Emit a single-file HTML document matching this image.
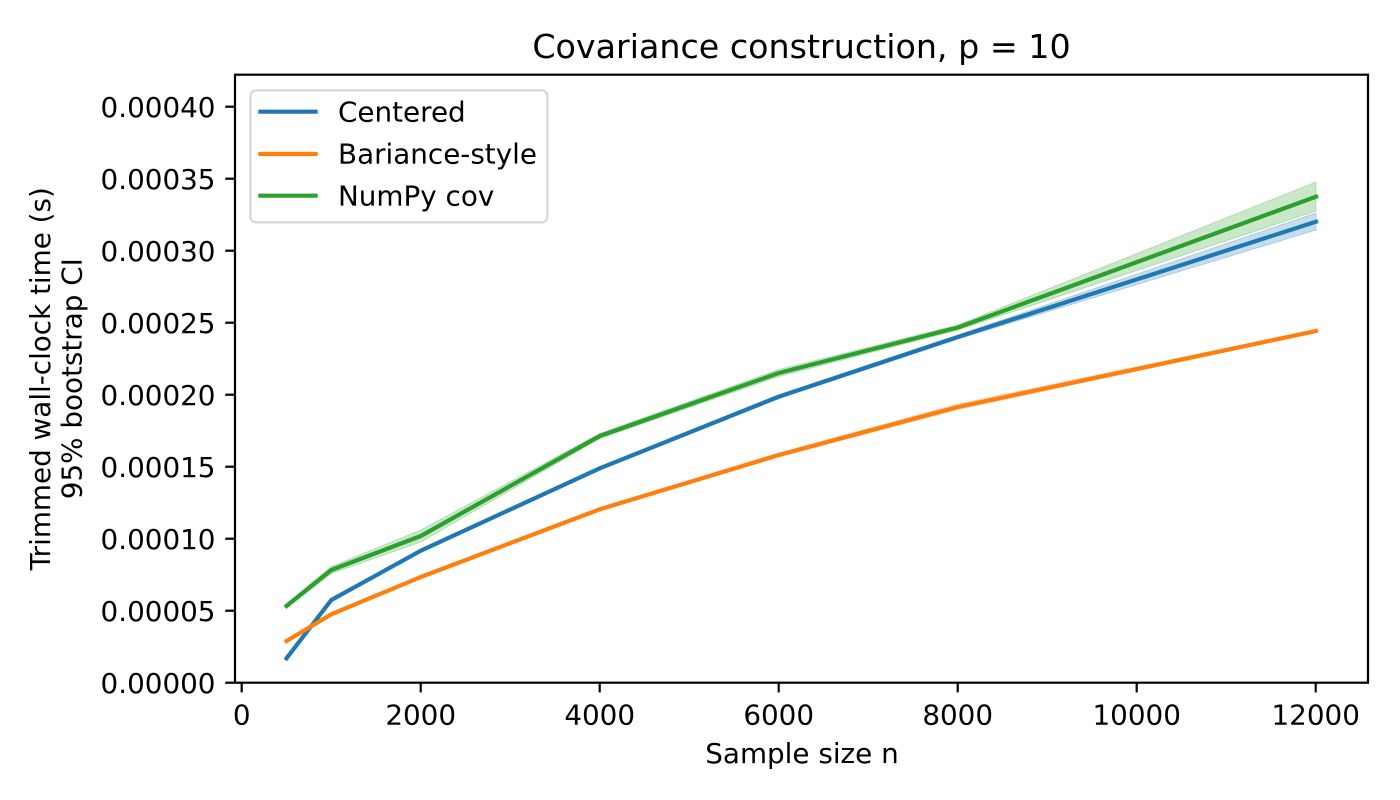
<!DOCTYPE html>
<html>
<head>
<meta charset="utf-8">
<style>
  html, body { margin: 0; padding: 0; background: #ffffff; }
  svg { display: block; }
  text { font-family: "DejaVu Sans", "Liberation Sans", sans-serif; fill: #000; }
</style>
</head>
<body>
<svg width="1400" height="800" viewBox="0 0 1400 800" xmlns="http://www.w3.org/2000/svg">
  <rect x="0" y="0" width="1400" height="800" fill="#ffffff"/>

  <!-- Title -->
  <text x="801.5" y="58" font-size="33.3" text-anchor="middle">Covariance construction, p = 10</text>

  <!-- Bands and lines -->
  <!-- Centered (blue) -->
  <polygon fill="#1f77b4" fill-opacity="0.25" stroke="#1f77b4" stroke-opacity="0.25" stroke-width="1"
    points="286.5,656.8 331.3,598.5 420.8,549.2 599.8,466.8 778.8,394.7 957.9,335 1316,213 1316,230 957.9,339 778.8,398.7 599.8,469.8 420.8,552.2 331.3,601.5 286.5,659.8"/>
  <polyline fill="none" stroke="#1f77b4" stroke-width="4.17" stroke-linecap="square" stroke-linejoin="round"
    points="286.5,658.3 331.3,600 420.8,550.7 599.8,468.3 778.8,396.7 957.9,337 1316,221.7"/>

  <!-- Bariance-style (orange) -->
  <polygon fill="#ff7f0e" fill-opacity="0.25" stroke="#ff7f0e" stroke-opacity="0.25" stroke-width="1"
    points="286.5,639.5 331.3,612.8 420.8,575.5 599.8,507.5 778.8,453 957.9,404 1316,329.5 1316,332.5 957.9,409.5 778.8,457 599.8,511 420.8,578.5 331.3,615.8 286.5,642.5"/>
  <polyline fill="none" stroke="#ff7f0e" stroke-width="4.17" stroke-linecap="square" stroke-linejoin="round"
    points="286.5,641 331.3,614.3 420.8,577 599.8,509.3 778.8,455 957.9,407 1316,331"/>

  <!-- NumPy cov (green) -->
  <polygon fill="#2ca02c" fill-opacity="0.25" stroke="#2ca02c" stroke-opacity="0.25" stroke-width="1"
    points="286.5,603.5 331.3,566.5 420.8,530 599.8,433.5 778.8,369.5 957.9,325 1316,182 1316,211 957.9,330 778.8,376.5 599.8,438.5 420.8,542 331.3,573.5 286.5,608.5"/>
  <polyline fill="none" stroke="#2ca02c" stroke-width="4.17" stroke-linecap="square" stroke-linejoin="round"
    points="286.5,606 331.3,570 420.8,536 599.8,436 778.8,373 957.9,327.5 1316,196.7"/>

  <!-- Axes spines -->
  <rect x="235" y="74.7" width="1133" height="608" fill="none" stroke="#000" stroke-width="2.2"/>

  <!-- Y ticks -->
  <g stroke="#000" stroke-width="2.2">
    <line x1="225.3" y1="682.7" x2="235" y2="682.7"/>
    <line x1="225.3" y1="610.7" x2="235" y2="610.7"/>
    <line x1="225.3" y1="538.7" x2="235" y2="538.7"/>
    <line x1="225.3" y1="466.7" x2="235" y2="466.7"/>
    <line x1="225.3" y1="394.7" x2="235" y2="394.7"/>
    <line x1="225.3" y1="322.7" x2="235" y2="322.7"/>
    <line x1="225.3" y1="250.7" x2="235" y2="250.7"/>
    <line x1="225.3" y1="178.7" x2="235" y2="178.7"/>
    <line x1="225.3" y1="106.7" x2="235" y2="106.7"/>
  </g>
  <g font-size="27.8" text-anchor="end">
    <text x="215.5" y="692.8">0.00000</text>
    <text x="215.5" y="620.8">0.00005</text>
    <text x="215.5" y="548.8">0.00010</text>
    <text x="215.5" y="476.8">0.00015</text>
    <text x="215.5" y="404.8">0.00020</text>
    <text x="215.5" y="332.8">0.00025</text>
    <text x="215.5" y="260.8">0.00030</text>
    <text x="215.5" y="188.8">0.00035</text>
    <text x="215.5" y="116.8">0.00040</text>
  </g>

  <!-- X ticks -->
  <g stroke="#000" stroke-width="2.2">
    <line x1="241.7" y1="682.7" x2="241.7" y2="692.4"/>
    <line x1="420.7" y1="682.7" x2="420.7" y2="692.4"/>
    <line x1="599.7" y1="682.7" x2="599.7" y2="692.4"/>
    <line x1="778.7" y1="682.7" x2="778.7" y2="692.4"/>
    <line x1="957.7" y1="682.7" x2="957.7" y2="692.4"/>
    <line x1="1136.7" y1="682.7" x2="1136.7" y2="692.4"/>
    <line x1="1315.7" y1="682.7" x2="1315.7" y2="692.4"/>
  </g>
  <g font-size="27.8" text-anchor="middle">
    <text x="241.7" y="724.5">0</text>
    <text x="420.7" y="724.5">2000</text>
    <text x="599.7" y="724.5">4000</text>
    <text x="778.7" y="724.5">6000</text>
    <text x="957.7" y="724.5">8000</text>
    <text x="1136.7" y="724.5">10000</text>
    <text x="1315.7" y="724.5">12000</text>
  </g>

  <!-- Axis labels -->
  <text x="802" y="763" font-size="27.8" text-anchor="middle">Sample size n</text>
  <text font-size="27.8" text-anchor="middle" transform="translate(50,378.7) rotate(-90)">Trimmed wall-clock time (s)</text>
  <text font-size="27.8" text-anchor="middle" transform="translate(81.7,378.7) rotate(-90)">95% bootstrap CI</text>

  <!-- Legend -->
  <rect x="250.4" y="90.4" width="297" height="132" rx="5.6" ry="5.6" fill="#ffffff" fill-opacity="0.8" stroke="#d6d6d6" stroke-width="2.2"/>
  <line x1="260.4" y1="111.7" x2="315.6" y2="111.7" stroke="#1f77b4" stroke-width="4.17" stroke-linecap="square"/>
  <line x1="260.4" y1="154" x2="315.6" y2="154" stroke="#ff7f0e" stroke-width="4.17" stroke-linecap="square"/>
  <line x1="260.4" y1="195.7" x2="315.6" y2="195.7" stroke="#2ca02c" stroke-width="4.17" stroke-linecap="square"/>
  <g font-size="27.8">
    <text x="338" y="121.7">Centered</text>
    <text x="338" y="163.3">Bariance-style</text>
    <text x="338" y="205.7">NumPy cov</text>
  </g>
</svg>
</body>
</html>
